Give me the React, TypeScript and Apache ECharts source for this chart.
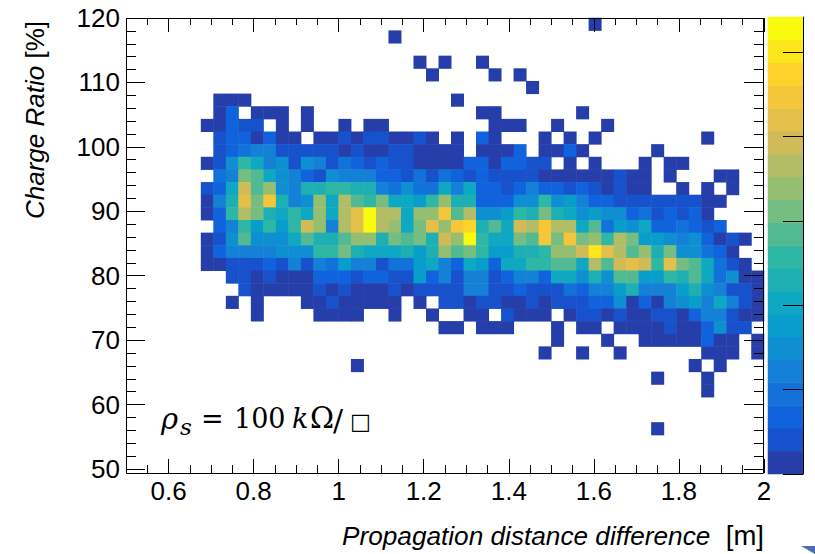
import React, { useEffect, useRef } from "react";
import * as echarts from "echarts";

// ---- histogram binning ----
const X_MIN = 0.5;
const X_MAX = 2.0;
const NX = 51;
const Y_MIN = 49.33;
const Y_MAX = 120;
const NY = 36;
const Z_MAX = 54.2;
const N_LEVELS = 20;
const FIRST_X_BIN = 6; // each row array starts at x-bin 6 and runs to x-bin 50

// ---- tick labels ----
const xTickLabels = [0.6, 0.8, 1, 1.2, 1.4, 1.6, 1.8, 2];
const yTickLabels = [50, 60, 70, 80, 90, 100, 110, 120];
const zTicks = [0, 10, 20, 30, 40, 50];

// ---- bin contents (counts) per y-bin, x-bins 6..50 ----
const yBin35 = [0,0,0,0,0, 0,0,0,0,0, 0,0,0,0,0, 0,0,0,0,0, 0,0,0,0,0, 0,0,0,0,0, 0,1,0,0,0, 0,0,0,0,0, 0,0,0,0,0];
const yBin34 = [0,0,0,0,0, 0,0,0,0,0, 0,0,0,0,0, 1,0,0,0,0, 0,0,0,0,0, 0,0,0,0,0, 0,0,0,0,0, 0,0,0,0,0, 0,0,0,0,0];
const yBin32 = [0,0,0,0,0, 0,0,0,0,0, 0,0,0,0,0, 0,0,1,0,1, 0,0,1,0,0, 0,0,0,0,0, 0,0,0,0,0, 0,0,0,0,0, 0,0,0,0,0];
const yBin31 = [0,0,0,0,0, 0,0,0,0,0, 0,0,0,0,0, 0,0,0,1,0, 0,0,0,1,0, 1,0,0,0,0, 0,0,0,0,0, 0,0,0,0,0, 0,0,0,0,0];
const yBin30 = [0,0,0,0,0, 0,0,0,0,0, 0,0,0,0,0, 0,0,0,0,0, 0,0,0,0,0, 0,1,0,0,0, 0,0,0,0,0, 0,0,0,0,0, 0,0,0,0,0];
const yBin29 = [0,1,1,1,0, 0,0,0,0,0, 0,0,0,0,0, 0,0,0,0,0, 1,0,0,0,0, 0,0,0,0,0, 0,0,0,0,0, 0,0,0,0,0, 0,0,0,0,0];
const yBin28 = [0,1,7,0,1, 1,1,0,1,0, 0,0,0,0,0, 0,0,0,0,0, 0,0,1,1,0, 0,0,0,0,0, 1,0,0,0,0, 0,0,0,0,0, 0,0,0,0,0];
const yBin27 = [1,1,7,4,4, 0,1,0,1,0, 0,1,0,1,1, 0,0,0,0,0, 0,0,0,1,1, 1,0,0,1,0, 0,0,1,0,0, 0,0,0,0,0, 0,0,0,0,0];
const yBin26 = [0,4,7,7,1, 7,1,1,0,1, 1,4,1,4,4, 1,1,4,1,0, 1,0,7,1,0, 0,0,1,0,1, 0,1,0,0,0, 0,0,0,0,0, 1,0,0,0,0];
const yBin25 = [0,4,7,9,12, 12,4,4,4,4, 4,1,4,1,1, 4,4,1,1,1, 1,0,1,1,1, 7,0,1,1,7, 1,0,0,0,0, 0,1,0,0,0, 0,0,0,0,0];
const yBin24 = [1,4,15,26,20, 12,15,4,15,12, 4,9,7,4,7, 4,4,1,1,1, 1,7,7,1,7, 7,4,4,0,1, 0,1,0,0,0, 1,0,1,1,0, 0,0,0,0,0];
const yBin23 = [0,9,12,31,28, 20,15,12,7,4, 15,12,12,12,7, 7,4,9,4,9, 7,4,7,4,4, 4,4,1,1,1, 1,1,1,4,1, 1,0,1,0,0, 0,1,1,0,0];
const yBin22 = [4,7,20,39,28, 34,15,12,23,23, 26,26,23,23,12, 9,15,9,9,20, 12,20,7,7,4, 7,12,7,7,4, 7,4,1,4,1, 1,0,0,1,0, 1,0,1,0,0];
const yBin21 = [1,12,23,42,31, 45,23,12,15,34, 20,37,28,26,31, 20,20,18,26,34, 23,23,7,7,7, 15,15,26,15,18, 12,7,7,4,4, 4,4,4,4,4, 1,1,0,0,0];
const yBin20 = [1,7,26,37,31, 23,20,26,20,34, 20,37,42,53,37, 37,20,34,34,45, 28,37,15,15,18, 26,23,31,23,20, 15,18,15,15,7, 9,4,7,4,7, 1,0,0,0,0];
const yBin19 = [0,7,12,26,18, 26,18,26,39,34, 12,37,42,53,37, 34,20,31,42,34, 45,47,23,28,20, 39,37,45,37,37, 20,28,9,18,15, 20,7,7,9,7, 4,7,0,0,0];
const yBin18 = [1,4,15,28,15, 15,15,20,28,23, 23,28,34,34,23, 31,28,31,23,39, 34,53,26,20,20, 31,28,45,31,45, 31,34,26,37,31, 18,18,15,12,15, 7,1,4,1,0];
const yBin17 = [1,7,12,12,12, 12,15,15,15,26, 26,31,23,20,20, 20,23,18,23,34, 28,31,26,18,18, 23,23,26,34,34, 39,50,42,37,28, 34,23,31,15,15, 9,7,1,0,0];
const yBin16 = [1,1,4,4,4, 7,4,12,4,12, 9,18,12,12,4, 9,9,18,20,12, 7,20,18,7,20, 20,26,26,28,28, 20,37,28,39,42, 39,26,42,31,28, 20,9,4,1,0];
const yBin15 = [0,0,4,4,1, 4,1,1,1,7, 7,7,4,7,7, 4,4,18,7,12, 4,12,12,4,7, 12,12,7,20,20, 15,23,15,28,28, 18,18,26,23,28, 20,9,15,1,1];
const yBin14 = [0,0,0,4,1, 1,1,1,1,4, 1,4,1,1,1, 4,1,4,4,4, 4,12,12,4,4, 7,4,4,4,9, 7,12,12,18,23, 12,12,12,18,23, 15,12,4,4,1];
const yBin13 = [0,0,1,0,1, 0,0,0,1,1, 4,1,1,1,1, 1,0,1,0,4, 4,1,4,4,1, 1,4,1,4,4, 4,7,7,15,1, 7,1,12,15,18, 12,20,12,4,1];
const yBin12 = [0,0,0,0,1, 0,0,0,0,1, 1,1,1,0,0, 1,0,0,1,0, 0,1,1,0,4, 1,1,1,0,1, 4,4,1,4,1, 1,4,4,1,7, 12,12,4,1,1];
const yBin11 = [0,0,0,0,0, 0,0,0,0,0, 0,0,0,0,0, 0,0,0,0,1, 1,0,1,1,1, 0,0,0,1,0, 1,1,0,1,1, 1,1,4,1,1, 7,15,4,4,0];
const yBin10 = [0,0,0,0,0, 0,0,0,0,0, 0,0,0,0,0, 0,0,0,0,0, 0,0,0,0,0, 0,0,0,1,0, 0,0,1,0,0, 1,1,1,1,1, 7,1,1,0,1];
const yBin9 = [0,0,0,0,0, 0,0,0,0,0, 0,0,0,0,0, 0,0,0,0,0, 0,0,0,0,0, 0,0,1,0,0, 1,0,0,1,0, 0,0,0,0,0, 1,1,1,0,1];
const yBin8 = [0,0,0,0,0, 0,0,0,0,0, 0,0,1,0,0, 0,0,0,0,0, 0,0,0,0,0, 0,0,0,0,0, 0,0,0,0,0, 0,0,0,0,1, 0,1,0,0,0];
const yBin7 = [0,0,0,0,0, 0,0,0,0,0, 0,0,0,0,0, 0,0,0,0,0, 0,0,0,0,0, 0,0,0,0,0, 0,0,0,0,0, 0,1,0,0,0, 1,0,0,0,0];
const yBin6 = [0,0,0,0,0, 0,0,0,0,0, 0,0,0,0,0, 0,0,0,0,0, 0,0,0,0,0, 0,0,0,0,0, 0,0,0,0,0, 0,0,0,0,0, 1,0,0,0,0];
const yBin3 = [0,0,0,0,0, 0,0,0,0,0, 0,0,0,0,0, 0,0,0,0,0, 0,0,0,0,0, 0,0,0,0,0, 0,0,0,0,0, 0,1,0,0,0, 0,0,0,0,0];

const histRows: [number, number[]][] = [
  [35, yBin35], [34, yBin34], [32, yBin32], [31, yBin31], [30, yBin30], [29, yBin29],
  [28, yBin28], [27, yBin27], [26, yBin26], [25, yBin25], [24, yBin24], [23, yBin23],
  [22, yBin22], [21, yBin21], [20, yBin20], [19, yBin19], [18, yBin18], [17, yBin17],
  [16, yBin16], [15, yBin15], [14, yBin14], [13, yBin13], [12, yBin12], [11, yBin11],
  [10, yBin10], [9, yBin9], [8, yBin8], [7, yBin7], [6, yBin6], [3, yBin3],
];

// ---- ROOT kBird palette stops ----
const BIRD_R = [0.2082, 0.0592, 0.078, 0.0232, 0.1802, 0.5301, 0.8186, 0.9956, 0.9764];
const BIRD_G = [0.1664, 0.3599, 0.5041, 0.6419, 0.7178, 0.7492, 0.7328, 0.7862, 0.9832];
const BIRD_B = [0.5293, 0.8684, 0.8385, 0.7914, 0.6425, 0.4662, 0.3499, 0.1968, 0.0539];

function bird(f: number): string {
  const n = BIRD_R.length - 1;
  const p = Math.min(Math.max(f, 0), 1) * n;
  const i = Math.min(Math.floor(p), n - 1);
  const t = p - i;
  const c = (a: number[]) => Math.round(255 * (a[i] + t * (a[i + 1] - a[i])));
  return `rgb(${c(BIRD_R)},${c(BIRD_G)},${c(BIRD_B)})`;
}

const FONT = "'Liberation Sans', Arial, sans-serif";
const SERIF = "'DejaVu Serif', 'Liberation Serif', serif";

export default function App() {
  const ref = useRef<HTMLDivElement>(null);

  useEffect(() => {
    if (!ref.current) return;
    const chart = echarts.init(ref.current, undefined, { renderer: "svg" });

    const xCats = Array.from({ length: NX }, (_, i) =>
      (X_MIN + ((i + 0.5) * (X_MAX - X_MIN)) / NX).toFixed(4)
    );
    const yCats = Array.from({ length: NY }, (_, i) =>
      (Y_MIN + ((i + 0.5) * (Y_MAX - Y_MIN)) / NY).toFixed(3)
    );
    const cells: [number, number, number][] = [];
    histRows.forEach(([yb, vals]) => {
      vals.forEach((v, i) => {
        if (v > 0) cells.push([FIRST_X_BIN + i, yb, v]);
      });
    });

    const w = Z_MAX / N_LEVELS;
    const levelCats = Array.from({ length: N_LEVELS }, (_, i) => String(i));
    const barCells = levelCats.map((_, i) => [0, i, (i + 0.5) * w]);
    const pieces = levelCats.map((_, i) => ({
      gte: i * w,
      lt: i === N_LEVELS - 1 ? Z_MAX * 10 : (i + 1) * w,
      color: bird((i + 1) / N_LEVELS),
    }));

    const tickStyle = { color: "#000", width: 1 };
    const noLine = { show: false, onZero: false };
    const labelStyle = { color: "#000", fontSize: 26, fontFamily: FONT };

    const xVal = (position: string, len: number, opts: any) => ({
      type: "value",
      gridIndex: 0,
      position,
      min: X_MIN,
      max: X_MAX,
      axisLine: noLine,
      splitLine: { show: false },
      z: 10,
      ...opts,
      axisTick: { show: true, inside: true, length: len, lineStyle: tickStyle, ...(opts.axisTick || {}) },
      axisLabel: opts.axisLabel || { show: false },
    });
    const yVal = (position: string, len: number, interval: number, label: any) => ({
      type: "value",
      gridIndex: 1,
      position,
      min: 50,
      max: 120,
      interval,
      axisLine: noLine,
      splitLine: { show: false },
      z: 10,
      axisTick: { show: true, inside: true, length: len, lineStyle: tickStyle },
      axisLabel: label || { show: false },
    });

    const txt = (x: number, y: number, text: string, font: string, align = "left") => ({
      type: "text",
      z: 100,
      x,
      y,
      silent: true,
      style: { text, font, fill: "#000", align, verticalAlign: "middle" },
    });

    const option: any = {
      animation: false,
      textStyle: { fontFamily: FONT },
      grid: [
        { left: 126, top: 18, width: 638, height: 455, outerBoundsMode: "none", containLabel: false },
        { left: 126, top: 18, width: 638, height: 451, outerBoundsMode: "none", containLabel: false },
        { left: 768, top: 17, width: 35, height: 457, outerBoundsMode: "none", containLabel: false },
      ],
      xAxis: [
        { type: "category", gridIndex: 0, data: xCats, show: false },
        xVal("bottom", 14, {
          axisTick: { customValues: xTickLabels },
          axisLabel: {
            show: true,
            customValues: xTickLabels,
            margin: 5,
            ...labelStyle,
            formatter: (v: number) => String(Number(v.toFixed(1))),
          },
        }),
        xVal("bottom", 8, { interval: 0.05 }),
        xVal("top", 14, { axisTick: { customValues: xTickLabels } }),
        xVal("top", 7, { interval: 0.05 }),
        { type: "value", gridIndex: 1, min: X_MIN, max: X_MAX, show: false },
        { type: "category", gridIndex: 2, data: ["z"], show: false },
      ],
      yAxis: [
        { type: "category", gridIndex: 0, data: yCats, show: false },
        yVal("left", 19, 10, { show: true, margin: 6, ...labelStyle, customValues: yTickLabels }),
        yVal("left", 10, 2, null),
        yVal("right", 20, 10, null),
        yVal("right", 10, 2, null),
        { type: "category", gridIndex: 2, data: levelCats, show: false },
        {
          type: "value",
          gridIndex: 2,
          position: "right",
          min: 0,
          max: Z_MAX,
          z: 10,
          axisLine: { show: true, onZero: false, lineStyle: { color: "#000", width: 1 } },
          splitLine: { show: false },
          axisTick: { show: true, inside: true, length: 20, customValues: zTicks, lineStyle: tickStyle },
          axisLabel: { show: false },
        },
      ],
      visualMap: [
        { type: "piecewise", show: false, dimension: 2, seriesIndex: [0, 1], pieces },
      ],
      series: [
        {
          type: "heatmap",
          xAxisIndex: 0,
          yAxisIndex: 0,
          data: cells,
          silent: true,
          emphasis: { disabled: true },
          progressive: 0,
        },
        {
          type: "heatmap",
          xAxisIndex: 6,
          yAxisIndex: 5,
          data: barCells,
          silent: true,
          emphasis: { disabled: true },
        },
      ],
      graphic: [
        {
          type: "rect",
          z: 100,
          silent: true,
          shape: { x: 126.5, y: 18.5, width: 637, height: 455 },
          style: { fill: "none", stroke: "#000", lineWidth: 1 },
        },
        {
          type: "text",
          z: 100,
          x: 35,
          y: 21,
          rotation: Math.PI / 2,
          silent: true,
          style: {
            text: "{it|Charge Ratio} {n|[%]}",
            align: "right",
            verticalAlign: "middle",
            font: `26px ${FONT}`,
            fill: "#000",
            rich: {
              it: { fontStyle: "italic", fontSize: 26, fontFamily: FONT, fill: "#000" },
              n: { fontSize: 26, fontFamily: FONT, fill: "#000" },
            },
          },
        },
        txt(342, 536, "Propagation distance difference", `italic 26.2px ${FONT}`),
        txt(764, 535, "[m]", `27.5px ${FONT}`, "right"),
        // annotation rho_s = 100 kOhm/sq
        txt(161, 419, "ρ", `italic 29px ${SERIF}`),
        txt(180, 427, "s", `italic 23px ${SERIF}`),
        txt(201, 418, "=", `27px ${SERIF}`),
        txt(234, 418, "100", `27px ${SERIF}`),
        txt(292, 418, "k", `italic 27px ${SERIF}`),
        txt(310, 418, "Ω", `29px ${SERIF}`),
        txt(333, 420, "/", `30px ${SERIF}`),
        txt(350, 421, "□", `22px ${SERIF}`),
        {
          type: "polygon",
          z: 100,
          silent: true,
          shape: { points: [[801, 546], [815, 546], [815, 554]] },
          style: { fill: "#4a6db3" },
        },
      ],
    };

    chart.setOption(option);
    return () => chart.dispose();
  }, []);

  return (
    <div
      ref={ref}
      style={{ position: "fixed", left: 0, top: 0, width: 815, height: 554, background: "#fff" }}
    />
  );
}
